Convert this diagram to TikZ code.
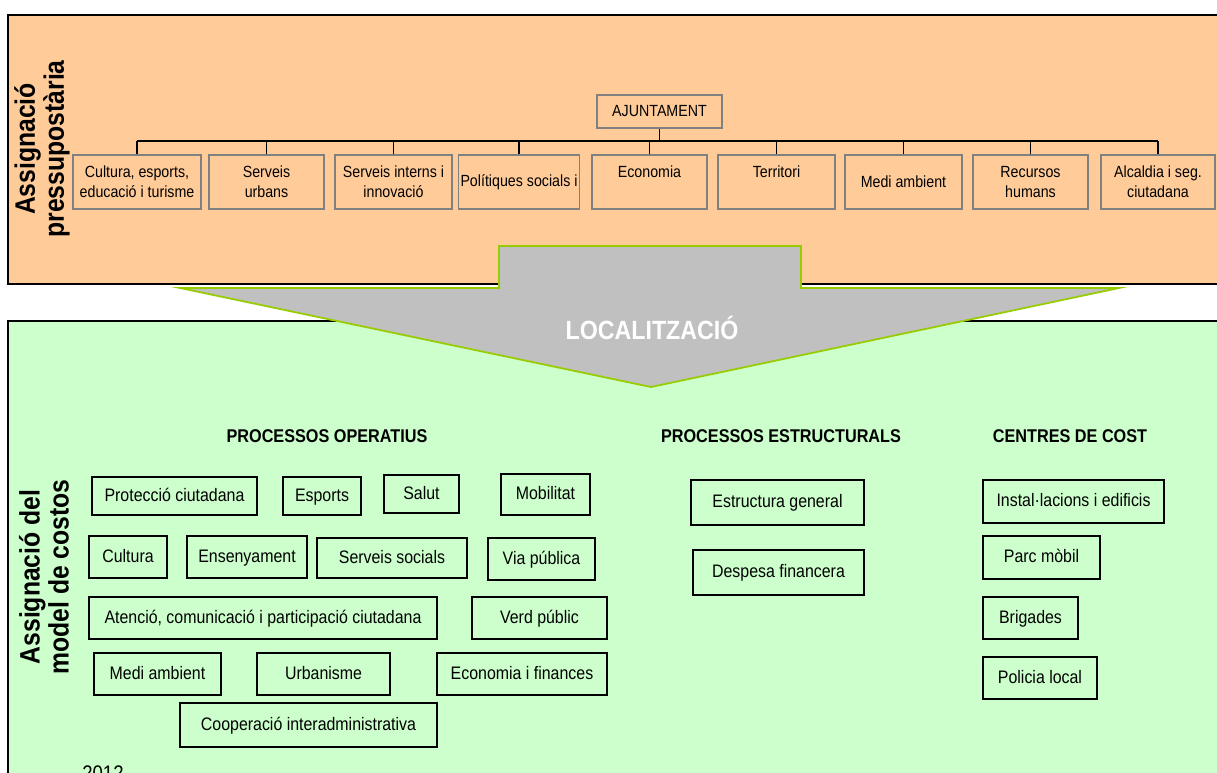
\documentclass[tikz,border=0pt]{standalone}
\usepackage{fontspec}
\setmainfont{Liberation Sans}[FakeStretch=0.88]

\definecolor{budget}{HTML}{FFCC99}
\definecolor{costs}{HTML}{CCFFCC}
\definecolor{arrowgray}{HTML}{C0C0C0}
\definecolor{arrowline}{HTML}{99CC00}

\begin{document}
\begin{tikzpicture}[x=0.02cm,y=-0.02cm,
	dept/.style={draw=gray,line width=0.8pt,fill=budget,align=center,inner sep=1pt,minimum height=1.08cm,font=\fontsize{9.2}{11.3}\selectfont},
	proc/.style={draw=black,line width=0.7pt,fill=costs,inner sep=1pt,text height=1.6ex,text depth=0.5ex,font=\fontsize{10.3}{12}\selectfont},
	head/.style={font=\bfseries\fontsize{10.5}{12}\selectfont},
	side/.style={rotate=90,align=center,font=\bfseries\fontsize{16}{16.5}\selectfont},
	bus/.style={line width=0.8pt}]
	\useasboundingbox (0,0) rectangle (1217,772);
	
	%budget panel
	\draw[fill=budget,line width=1pt] (8,15) rectangle (1235,284);
	\node[side] (titletop) at (42,149) {Assignació\\pressupostària};
	
	\node[dept,minimum width=2.5cm,minimum height=0.66cm] (ajt) at (659.5,111.5) {AJUNTAMENT};
	\node[dept,minimum width=2.56cm] (cul) at (137,182)    {Cultura, esports,\\educació i turisme};
	\node[dept,minimum width=2.30cm] (urb) at (266.5,182)  {Serveis\\urbans};
	\node[dept,minimum width=2.34cm] (inn) at (393.5,182)  {Serveis interns i\\innovació};
	\node[dept,minimum width=2.40cm] (pol) at (519,182)    {Polítiques socials i};
	\node[dept,minimum width=2.30cm] (eco) at (649.5,182)  {Economia\\\mbox{}};
	\node[dept,minimum width=2.34cm] (ter) at (776.5,182)  {Territori\\\mbox{}};
	\node[dept,minimum width=2.34cm] (med) at (903.5,182)  {Medi ambient};
	\node[dept,minimum width=2.30cm] (rec) at (1030.5,182) {Recursos\\humans};
	\node[dept,minimum width=2.28cm] (alc) at (1158,182)   {Alcaldia i seg.\\ciutadana};
	
	%tree lines
	\coordinate (busL) at (137,141);
	\coordinate (busR) at (1158,141);
	\draw[bus] (busL) -- (busR);
	\draw[bus] (ajt.south) -- (ajt.south |- busL);
	\foreach \d in {cul,urb,inn,pol,eco,ter,med,rec,alc}
		\draw[bus] (\d.north) -- (\d.north |- busL);
	
	%cost panel
	\draw[fill=costs,line width=1pt] (8,321) rectangle (1235,790);
	\node[side] (titlebot) at (44,577) {Assignació del\\model de costos};
	
	%big arrow
	\draw[fill=arrowgray,draw=arrowline,line width=1pt] (499,246) -- (801,246) -- (801,288) -- (1119,288) -- (651,387) -- (180,288) -- (499,288) -- cycle;
	\node[text=white,font=\bfseries\fontsize{15}{18}\selectfont] (loc) at (652,328) {LOCALITZACIÓ};
	
	%headers
	\node[head] (hop) at (327,436)  {PROCESSOS OPERATIUS};
	\node[head] (hes) at (781,436)  {PROCESSOS ESTRUCTURALS};
	\node[head] (hcc) at (1070,436) {CENTRES DE COST};
	
	%operational processes
	\node[proc,minimum width=3.30cm,minimum height=0.76cm] (prot) at (174.5,496) {Protecció ciutadana};
	\node[proc,minimum width=1.56cm,minimum height=0.76cm] (esp)  at (322,496)   {Esports};
	\node[proc,minimum width=1.50cm,minimum height=0.76cm] (sal)  at (421.5,494) {Salut};
	\node[proc,minimum width=1.78cm,minimum height=0.82cm] (mob)  at (545.5,494.5) {Mobilitat};
	\node[proc,minimum width=1.56cm,minimum height=0.84cm] (cult) at (128,557)   {Cultura};
	\node[proc,minimum width=2.40cm,minimum height=0.84cm] (ens)  at (247,557)   {Ensenyament};
	\node[proc,minimum width=3.00cm,minimum height=0.80cm] (soc)  at (392,558)   {Serveis socials};
	\node[proc,minimum width=2.14cm,minimum height=0.84cm] (via)  at (541.5,559) {Via pública};
	\node[proc,minimum width=6.96cm,minimum height=0.84cm] (ate)  at (263,618)   {Atenció, comunicació i participació ciutadana};
	\node[proc,minimum width=2.70cm,minimum height=0.84cm] (verd) at (539.5,618) {Verd públic};
	\node[proc,minimum width=2.54cm,minimum height=0.84cm] (mamb) at (157.5,674) {Medi ambient};
	\node[proc,minimum width=2.66cm,minimum height=0.84cm] (urba) at (323.5,674) {Urbanisme};
	\node[proc,minimum width=3.40cm,minimum height=0.84cm] (ecof) at (522,674)   {Economia i finances};
	\node[proc,minimum width=5.14cm,minimum height=0.88cm] (coop) at (308.5,725) {Cooperació interadministrativa};
	
	%structural processes
	\node[proc,minimum width=3.46cm,minimum height=0.90cm] (estr) at (777.5,502.5) {Estructura general};
	\node[proc,minimum width=3.42cm,minimum height=0.90cm] (desp) at (778.5,572.5) {Despesa financera};
	
	%cost centres
	\node[proc,minimum width=3.62cm,minimum height=0.86cm] (inst) at (1073.5,501.5) {Instal·lacions i edificis};
	\node[proc,minimum width=2.34cm,minimum height=0.86cm] (parc) at (1041.5,557.5) {Parc mòbil};
	\node[proc,minimum width=1.90cm,minimum height=0.84cm] (brig) at (1030.5,618)   {Brigades};
	\node[proc,minimum width=2.28cm,minimum height=0.84cm] (plc)  at (1040,678)     {Policia local};
	
	\node[anchor=north west,inner sep=0pt,font=\fontsize{12}{14}\selectfont] (year) at (82,765) {2012};
\end{tikzpicture}
\end{document}
